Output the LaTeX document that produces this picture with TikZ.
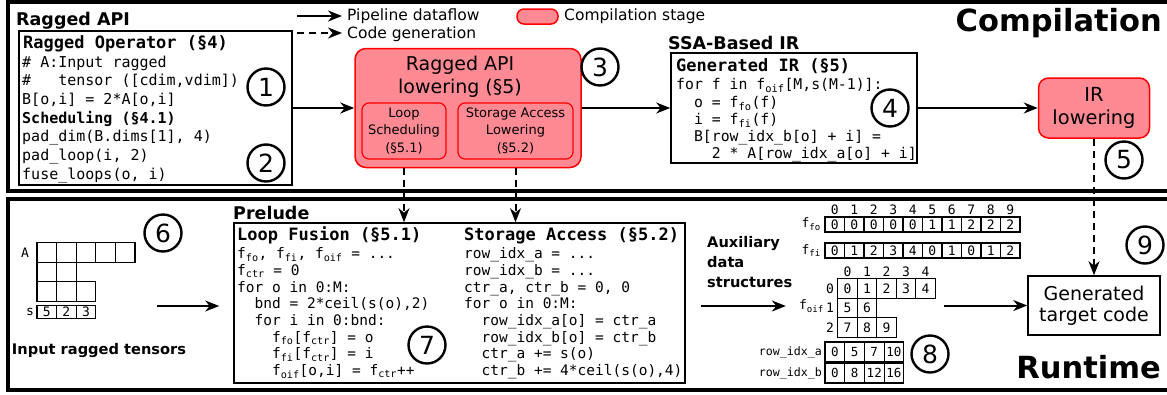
\documentclass[tikz,border=0pt]{standalone}
\usepackage{fontspec}
\setmainfont{DejaVu Sans}
\setmonofont{DejaVu Sans Mono}
\usetikzlibrary{arrows.meta,positioning}
\definecolor{stagefill}{RGB}{255,138,148}
\newcommand{\fs}[1]{f\textsubscript{#1}}

\begin{document}
\begin{tikzpicture}
	[ x=1pt, y=-1pt,
		panel/.style={draw,line width=4pt},
		box/.style={draw,line width=1.6pt,inner sep=0pt},
		stage/.style={draw=red,fill=stagefill,line width=1.5pt,rounded corners=11pt,inner sep=0pt},
		substage/.style={draw=red,fill=stagefill,line width=1.2pt,rounded corners=7pt,inner sep=0pt,align=center,font=\fontsize{13}{17.5}\selectfont},
		num/.style={circle,draw,line width=2.4pt,minimum size=37pt,inner sep=0pt,font=\fontsize{25}{25}\selectfont},
		title/.style={anchor=base west,inner sep=0pt,font=\fontsize{17.5}{20}\selectfont\bfseries},
		big/.style={anchor=base east,inner sep=0pt,font=\fontsize{30.5}{32}\selectfont\bfseries},
		head/.style={anchor=base west,inner sep=0pt,font=\fontsize{17}{20}\selectfont\ttfamily\bfseries},
		code/.style={anchor=north west,inner sep=0pt,align=left},
		cell/.style={draw,line width=1.2pt,inner sep=0pt,minimum width=19.5pt,font=\fontsize{13}{13}\selectfont\ttfamily},
		idx/.style={inner sep=0pt,font=\fontsize{13}{13}\selectfont\ttfamily},
		flow/.style={-{Stealth[length=14pt,width=11pt,inset=4.5pt]},line width=2pt},
		gen/.style={flow,dash pattern=on 7pt off 5pt}]

	\useasboundingbox (0,0) rectangle (1167,394);

	% the two panels
	\draw[panel] (7.5,2) rectangle (1169,191);
	\draw[panel] (7.5,198.5) rectangle (1169,390);

	% compilation
	\node[title] (api title) at (16,25) {Ragged API};
	\node[big] (compilation) at (1162,31) {Compilation};

	\coordinate (leg a) at (297,16);
	\coordinate (leg b) at (342,16);
	\coordinate (leg c) at (297,33);
	\coordinate (leg d) at (342,33);
	\draw[flow] (leg a) -- (leg b);
	\draw[gen] (leg c) -- (leg d);
	\node[anchor=west,inner sep=0pt,font=\fontsize{15.5}{18}\selectfont] (leg flow) at (347,16) {Pipeline dataflow};
	\node[anchor=west,inner sep=0pt,font=\fontsize{15.5}{18}\selectfont] (leg gen) at (347,34) {Code generation};
	\node[stage,rounded corners=7pt,minimum width=41pt,minimum height=15pt] (leg stage) at (537.5,16.5) {};
	\node[anchor=west,inner sep=0pt,font=\fontsize{15.5}{18}\selectfont] (leg stage text) at (564,16) {Compilation stage};

	\node[box,minimum width=273pt,minimum height=154pt] (ragged op) at (155.5,108) {};
	\node[head] (op head) at (23,48) {Ragged Operator (§4)};
	\node[code,font=\fontsize{15}{18.7}\selectfont\ttfamily] (op code) at (22,55.5) {\# A:Input ragged\\\#\phantom{xxx}tensor ([cdim,vdim])\\B[o,i] = 2*A[o,i]\\\textbf{Scheduling (§4.1)}\\pad\_dim(B.dims[1], 4)\\pad\_loop(i, 2)\\fuse\_loops(o, i)};
	\node[num] (n1) at (266,87) {1};
	\node[num] (n2) at (266,163) {2};

	\node[stage,minimum width=226pt,minimum height=119pt] (lowering) at (468,108) {};
	\node[align=center,inner sep=0pt,font=\fontsize{19}{23}\selectfont] (lowering title) at (460,77) {Ragged API\\lowering (§5)};
	\node[substage,minimum width=84pt,minimum height=56pt] (sched) at (404,131) {Loop\\Scheduling\\(§5.1)};
	\node[substage,minimum width=115pt,minimum height=56pt] (storage) at (515.5,131) {Storage Access\\Lowering\\(§5.2)};
	\node[num] (n3) at (600,67) {3};

	\node[title] (ssa title) at (668,49) {SSA-Based IR};
	\node[box,minimum width=246pt,minimum height=110pt] (gen ir) at (794,108) {};
	\node[head] (ir head) at (676,71) {Generated IR (§5)};
	\node[code,font=\fontsize{14.8}{17.2}\selectfont\ttfamily] (ir code) at (676,78.5) {for f in \fs{oif}[M,s(M-1)]:\\\phantom{xx}o = \fs{fo}(f)\\\phantom{xx}i = \fs{fi}(f)\\\phantom{xx}B[row\_idx\_b[o] + i] =\\\phantom{xxxx}2 * A[row\_idx\_a[o] + i]};
	\node[num] (n4) at (890,108) {4};

	\node[stage,rounded corners=10pt,minimum width=111pt,minimum height=60pt,align=center,font=\fontsize{19.4}{23}\selectfont] (ir lowering) at (1094,108) {IR\\lowering};
	\node[num] (n5) at (1124,160) {5};

	\draw[flow] (ragged op.east) -- (lowering.west);
	\draw[flow] (lowering.east) -- (gen ir.west);
	\draw[flow] (gen ir.east) -- (ir lowering.west);

	% runtime
	\node[title] (prelude title) at (233,219) {Prelude};
	\node[box,minimum width=451pt,minimum height=160pt] (prelude) at (459.5,303) {};
	\node[head] (fusion head) at (237,240) {Loop Fusion (§5.1)};
	\node[code,font=\fontsize{14.5}{16.7}\selectfont\ttfamily] (fusion code) at (237,247.5) {\fs{fo}, \fs{fi}, \fs{oif} = ...\\\fs{ctr} = 0\\for o in 0:M:\\\phantom{xx}bnd = 2*ceil(s(o),2)\\\phantom{xx}for i in 0:bnd:\\\phantom{xxxx}\fs{fo}[\fs{ctr}] = o\\\phantom{xxxx}\fs{fi}[\fs{ctr}] = i\\\phantom{xxxx}\fs{oif}[o,i] = \fs{ctr}++};
	\node[head] (access head) at (464,240) {Storage Access (§5.2)};
	\node[code,font=\fontsize{14.5}{16.7}\selectfont\ttfamily] (access code) at (464,247.5) {row\_idx\_a = ...\\row\_idx\_b = ...\\ctr\_a, ctr\_b = 0, 0\\for o in 0:M:\\\phantom{xx}row\_idx\_a[o] = ctr\_a\\\phantom{xx}row\_idx\_b[o] = ctr\_b\\\phantom{xx}ctr\_a += s(o)\\\phantom{xx}ctr\_b += 4*ceil(s(o),4)};
	\node[num] (n7) at (427,345) {7};

	\draw[gen] (sched.south |- lowering.south) -- (sched.south |- prelude.north);
	\draw[gen] (storage.south |- lowering.south) -- (storage.south |- prelude.north);

	% input tensors
	\node[idx] (a label) at (25,253) {A};
	\foreach \n/\k/\y in {1/5/252.5, 2/2/272, 3/3/291.5}
		\foreach \i in {1,...,\k}
			\node[cell,minimum width=19.6pt,minimum height=19.5pt] (a \n-\i) at (27.2+19.6*\i,\y) {};
	\node[idx] (s label) at (30,312) {s};
	\foreach \v [count=\i] in {5,2,3}
		\node[cell,minimum width=19.6pt,minimum height=13pt] (s \i) at (27.2+19.6*\i,312) {\v};
	\node[num] (n6) at (163,233) {6};
	\node[inner sep=0pt,font=\fontsize{14.6}{18}\selectfont\bfseries] (tensor caption) at (99,351) {Input ragged tensors};
	\coordinate (tensor out) at (157,306);
	\draw[flow,shorten >=14pt] (tensor out) -- (tensor out -| prelude.west);

	% auxiliary data
	\node[anchor=north west,inner sep=0pt,align=left,font=\fontsize{14.6}{20}\selectfont\bfseries] (aux caption) at (707,236) {Auxiliary\\data\\structures};

	\node[idx,anchor=east] (fo label) at (821,224.5) {\fs{fo}};
	\node[idx,anchor=east] (fi label) at (821,250.5) {\fs{fi}};
	\foreach \i in {0,...,9}
		\node[idx] (fo idx \i) at (834.75+19.5*\i,210) {\i};
	\foreach \v [count=\i from 0] in {0,0,0,0,0,1,1,2,2,2}
		\node[cell,minimum height=15pt] (fo \i) at (834.75+19.5*\i,224.5) {\v};
	\foreach \v [count=\i from 0] in {0,1,2,3,4,0,1,0,1,2}
		\node[cell,minimum height=15pt] (fi \i) at (834.75+19.5*\i,250.5) {\v};

	\foreach \i in {0,...,4}
		\node[idx] (oif idx \i) at (847.5+19.5*\i,272) {\i};
	\foreach \r/\y/\vals in {0/288.5/{0,1,2,3,4}, 1/308/{5,6}, 2/327.5/{7,8,9}} {
		\node[idx] (oif row \r) at (830,\y) {\r};
		\foreach \v [count=\i from 0] in \vals
			\node[cell,minimum height=19.5pt] (oif \r-\i) at (847.5+19.5*\i,\y) {\v};
	}
	\node[idx,anchor=east] (oif label) at (824,306) {\fs{oif}};

	\node[idx,anchor=east,font=\fontsize{11.6}{12}\selectfont\ttfamily] (rowa label) at (822,352) {row\_idx\_a};
	\node[idx,anchor=east,font=\fontsize{11.6}{12}\selectfont\ttfamily] (rowb label) at (822,373) {row\_idx\_b};
	\foreach \v [count=\i from 0] in {0,5,7,10}
		\node[cell,minimum width=19.7pt,minimum height=20pt,font=\fontsize{12.5}{12.5}\selectfont\ttfamily] (rowa \i) at (834.85+19.7*\i,352) {\v};
	\foreach \v [count=\i from 0] in {0,8,12,16}
		\node[cell,minimum width=19.7pt,minimum height=20pt,font=\fontsize{12.5}{12.5}\selectfont\ttfamily] (rowb \i) at (834.85+19.7*\i,373) {\v};
	\node[num] (n8) at (930,354) {8};

	\node[box,minimum width=132pt,minimum height=59pt,align=center,font=\fontsize{19}{21}\selectfont] (target) at (1094,305.5) {Generated\\target code};
	\node[num] (n9) at (1145,245) {9};
	\node[big] (runtime) at (1161,378) {Runtime};

	\draw[flow,shorten <=15pt,shorten >=13pt] (prelude.east |- oif label.west) -- (oif label.west);
	\draw[flow,shorten <=8pt] (oif 0-4.east |- target.west) -- (target.west);
	\draw[gen] (ir lowering.south) -- (target.north);
\end{tikzpicture}
\end{document}
